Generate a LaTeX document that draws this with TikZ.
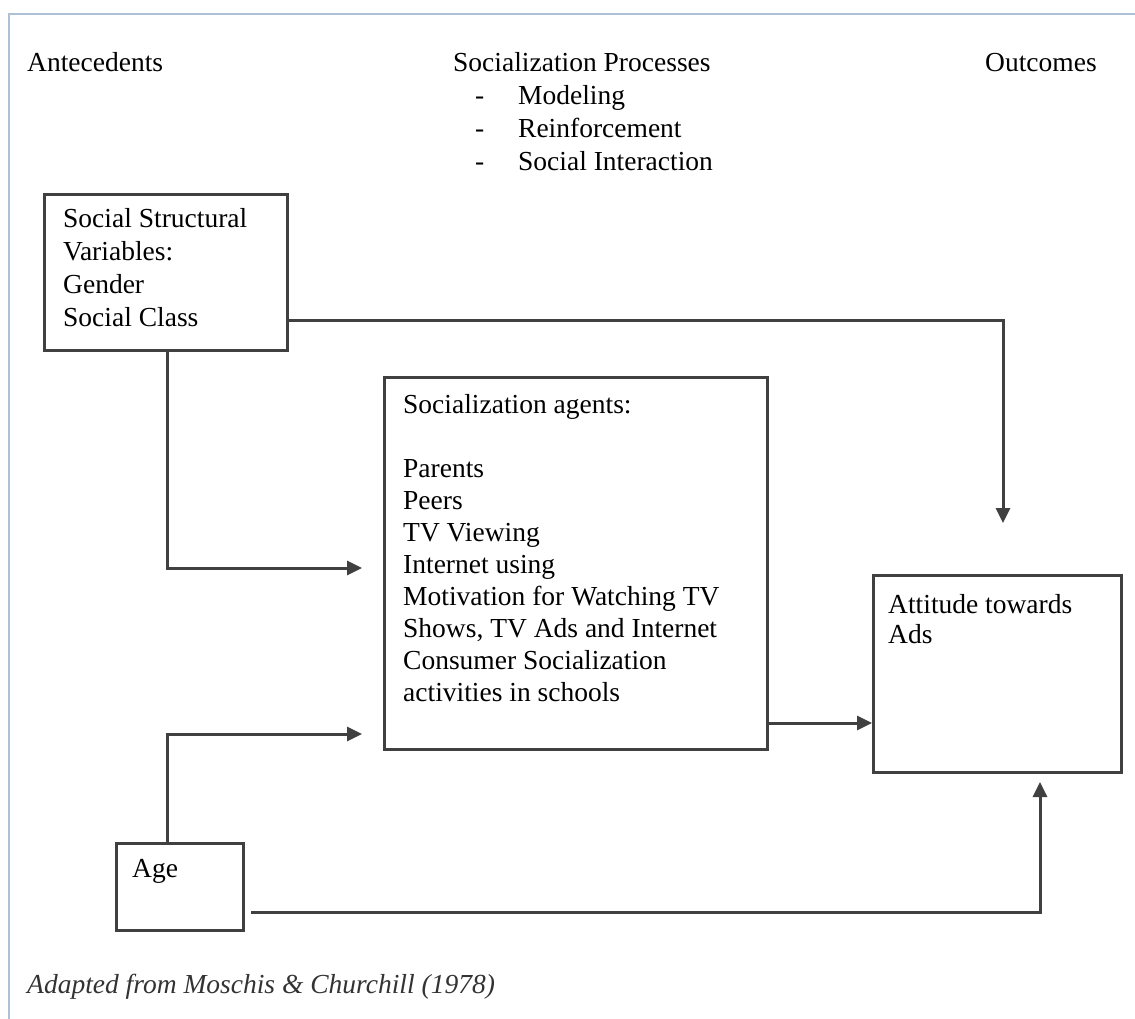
\documentclass[tikz,border=0pt]{standalone}
\usepackage{fontspec}
\setmainfont{Liberation Serif}
\usetikzlibrary{arrows.meta,calc}
\definecolor{framec}{RGB}{172,192,214}
\definecolor{ink}{RGB}{64,64,64}
\begin{document}
\begin{tikzpicture}[x=1pt,y=-1pt,
  box/.style={draw=ink, line width=3pt, rectangle, inner sep=0pt, anchor=north west},
  txt/.style={inner sep=0pt, anchor=north west, align=left, text=black},
  one/.style={inner sep=0pt, anchor=base west, text=black, font=\fontsize{27.5}{32}\selectfont},
  conn/.style={draw=ink, line width=3pt, line join=miter, -{Triangle[length=15pt,width=14pt]}},
  ]
\useasboundingbox (0,0) rectangle (1135,1019);
% frame
\draw[framec, line width=2.8pt] (9,1019) -- (9,14) -- (1135,14);

% headings
\node[one] (ante) at (27,72) {Antecedents};
\node[one] (outc) at (985,72) {Outcomes};
\node[txt, font=\fontsize{27.5}{33}\selectfont] (proc) at (453,52) {Socialization Processes\\
\makebox[65pt][l]{\hspace*{22pt}-}Modeling\\
\makebox[65pt][l]{\hspace*{22pt}-}Reinforcement\\
\makebox[65pt][l]{\hspace*{22pt}-}Social Interaction};

% boxes
\node[box, minimum width=243pt, minimum height=156pt] (b1) at (43,193) {};
\node[box, minimum width=383pt, minimum height=372pt] (b2) at (383,376) {};
\node[box, minimum width=248pt, minimum height=197pt] (b3) at (872,574) {};
\node[box, minimum width=127pt, minimum height=87pt] (age) at (115,842) {};

% box texts
\node[txt, font=\fontsize{27.5}{33}\selectfont] (b1t) at (63,208) {Social Structural\\Variables:\\Gender\\Social Class};
\node[txt, font=\fontsize{27.5}{32}\selectfont] (b2t) at (403,394) {Socialization agents:\\[32pt]Parents\\Peers\\TV Viewing\\Internet using\\Motivation for Watching TV\\Shows, TV Ads and Internet\\Consumer Socialization\\activities in schools};
\node[txt, font=\fontsize{27.5}{30}\selectfont] (b3t) at (888,594) {Attitude towards\\Ads};
\node[one] (aget) at (132,877) {Age};

% caption
\node[one, font=\fontsize{27.5}{32}\selectfont\itshape, text=black!80] (cap) at (27,993) {Adapted from Moschis \& Churchill (1978)};

% connector end points
\coordinate (t1) at (1003,523);
\coordinate (t2) at (362,568);
\coordinate (t3) at (362,734);
\coordinate (t5) at (1040,782);
\coordinate (s5) at (251,912);

% connectors
\draw[conn] ($(b1.south east)+(0,-32)$) -| (t1);
\draw[conn] ($(b1.south west)+(124,0)$) |- (t2);
\draw[conn] ($(age.north west)+(52,0)$) |- (t3);
\draw[conn] ($(b2.south east)+(0,-28)$) -- ($(b3.south west)+(0,-51)$);
\draw[conn] (s5) -| (t5);
\end{tikzpicture}
\end{document}
